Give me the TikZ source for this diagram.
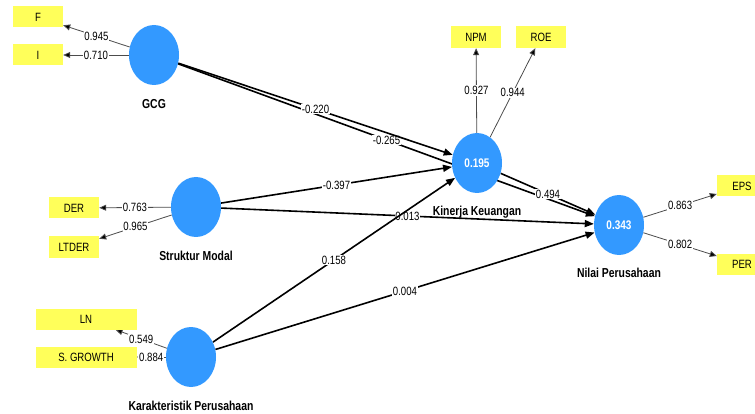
\documentclass[tikz,border=0pt]{standalone}
\usepackage{fontspec}
\setmainfont{Liberation Sans}[FakeStretch=0.8]
\usetikzlibrary{shapes.geometric,arrows.meta}
\pgfdeclarelayer{bg}
\pgfsetlayers{bg,main}
\definecolor{lvblue}{RGB}{51,153,255}
\definecolor{indyellow}{RGB}{255,255,90}
\begin{document}
\begin{tikzpicture}[x=1pt,y=-1pt,
 lv/.style={ellipse,fill=lvblue,minimum width=50pt,minimum height=60pt,inner sep=0pt,text=white,font=\bfseries\fontsize{12.5}{14}\selectfont},
 ind/.style={fill=indyellow,minimum width=50pt,minimum height=21pt,inner sep=0pt,font=\fontsize{12}{14}\selectfont},
 lvname/.style={font=\bfseries\fontsize{13}{15}\selectfont},
 structarrow/.style={line width=1.6pt,-{Triangle[length=9pt,width=7pt]}},
 loadarrow/.style={draw=black!70,line width=0.8pt,-{Triangle[length=7pt,width=6pt,fill=black]}},
 coef/.style={fill=white,inner sep=0.8pt,font=\fontsize{12}{14}\selectfont}]
\useasboundingbox (0,0) rectangle (755,414);
\clip (0,0) rectangle (755,414);
% latent variables
\node[lv] (gcg) at (154,55) {};
\node[lv] (sm) at (196,207) {};
\node[lv] (kp) at (191,357) {};
\node[lv] (kin) at (477,163) {0.195};
\node[lv] (nil) at (619,225) {0.343};
\node[lvname] (gcgname) at (154,104) {GCG};
\node[lvname] (smname) at (196,256) {Struktur Modal};
\node[lvname] (kpname) at (191,406) {Karakteristik Perusahaan};
\node[lvname] (kinname) at (477,212) {Kinerja Keuangan};
\node[lvname] (nilname) at (619,273) {Nilai Perusahaan};
% indicators
\node[ind] (f) at (38,17) {F};
\node[ind] (i) at (38,55) {I};
\node[ind] (der) at (74,208) {DER};
\node[ind] (ltder) at (74,247) {LTDER};
\node[ind,minimum width=101pt] (ln) at (86,319) {LN};
\node[ind,minimum width=101pt] (sg) at (86,357) {S. GROWTH};
\node[ind,minimum height=22pt] (npm) at (476,37) {NPM};
\node[ind,minimum height=22pt] (roe) at (541,37) {ROE};
\node[ind] (eps) at (742,186) {EPS};
\node[ind] (per) at (742,264) {PER};
\begin{pgfonlayer}{bg}
% structural paths
\draw[structarrow] (gcg) -- node[coef]{-0.265} (nil);
\draw[structarrow] (gcg) -- node[coef]{-0.220} (kin);
\draw[structarrow] (sm) -- node[coef]{-0.397} (kin);
\draw[structarrow] (sm) -- node[coef]{0.013} (nil);
\draw[structarrow] (kin) -- node[coef]{0.494} (nil);
\draw[structarrow] (kp) -- node[coef]{0.158} (kin);
\draw[structarrow] (kp) -- node[coef]{0.004} (nil);
% loadings
\draw[loadarrow] (gcg) -- node[coef]{0.945} (f);
\draw[loadarrow] (gcg) -- node[coef]{0.710} (i);
\draw[loadarrow] (sm) -- node[coef]{0.763} (der);
\draw[loadarrow] (sm) -- node[coef]{0.965} (ltder);
\draw[loadarrow] (kp) -- node[coef]{0.549} (ln);
\draw[loadarrow] (kp) -- node[coef]{0.884} (sg);
\draw[loadarrow] (kin) -- node[coef]{0.927} (npm);
\draw[loadarrow] (kin) -- node[coef]{0.944} (roe);
\draw[loadarrow] (nil) -- node[coef]{0.863} (eps);
\draw[loadarrow] (nil) -- node[coef]{0.802} (per);
\end{pgfonlayer}
\end{tikzpicture}
\end{document}
